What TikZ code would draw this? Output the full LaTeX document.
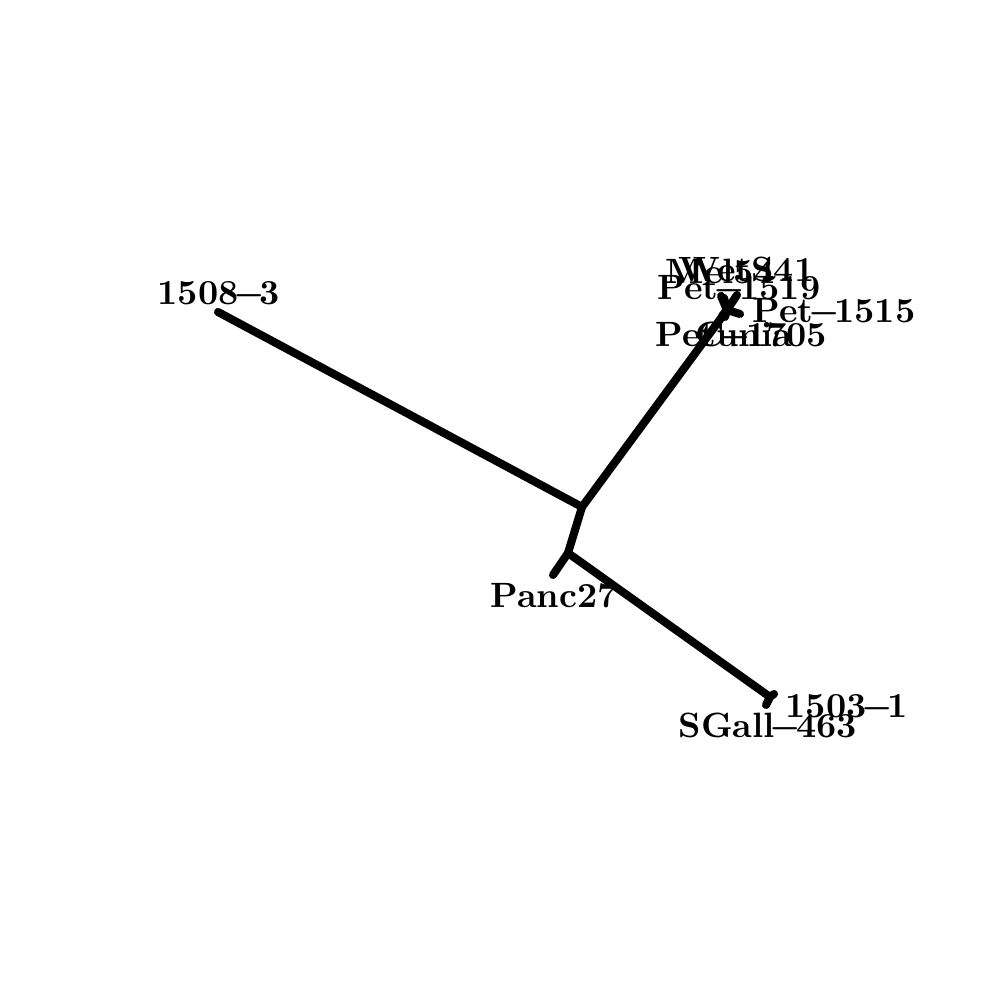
\documentclass[tikz,border=0pt]{standalone}
\usetikzlibrary{positioning}

\newcommand{\dsh}{\makebox[0.6em]{\boldmath$-$}}
\tikzset{
	branch/.style = {black, line width = 2.3pt, line cap = round, line join = round},
	taxon/.style = {font = \fontsize{10}{12}\selectfont\bfseries, inner sep = 0pt}
}

\begin{document}
\begin{tikzpicture}[scale = 1, baseline = 0]
				\useasboundingbox (0, 0) rectangle (10, 10);
				% inner nodes of the tree
				\coordinate (root) at (5.82, 4.93);
				\coordinate (pet) at (7.27, 6.90);
				\coordinate (low) at (5.68, 4.47);
				\coordinate (gall) at (7.70, 3.03);
				% tips
				\coordinate (t1508) at (2.18, 6.88);
				\coordinate (tpanc) at (5.53, 4.25);
				\coordinate (tsgall) at (7.66, 2.95);
				\coordinate (t1503) at (7.74, 3.06);
				\coordinate (twet) at (7.21, 7.04);
				\coordinate (tmel) at (7.24, 7.02);
				\coordinate (t1519) at (7.37, 7.05);
				\coordinate (t1515) at (7.40, 6.86);
				\coordinate (tpetunia) at (7.22, 6.84);
				\coordinate (t1705) at (7.25, 6.83);
				\draw[branch] (t1508) -- (root) -- (pet);
				\draw[branch] (root) -- (low) -- (gall);
				\draw[branch] (low) -- (tpanc);
				\draw[branch] (gall) -- (tsgall) (gall) -- (t1503);
				\foreach \t in {twet, tmel, t1519, t1515, tpetunia, t1705}
					\draw[branch] (pet) -- (\t);
				% labels
				\node[taxon, anchor = base west] (l1508) at (1.57, 6.95) {1508\dsh3};
				\node[taxon, anchor = base west] (lpanc) at (4.90, 3.92) {Panc27};
				\node[taxon, anchor = base west] (l1503) at (7.85, 2.82) {1503\dsh1};
				\node[taxon, anchor = base west] (lsgall) at (6.78, 2.62) {SGall\dsh463};
				\node[taxon, anchor = base west] (l1515) at (7.52, 6.77) {Pet\dsh1515};
				\node[taxon, anchor = base west] (l1519) at (6.57, 7.00) {Pet\dsh1519};
				\node[taxon, anchor = base west] (lmel) at (6.65, 7.16) {Mel54};
				\node[taxon, anchor = base west] (lwet) at (6.78, 7.18) {WetS41};
				\node[taxon, anchor = base west] (lpetunia) at (6.55, 6.53) {Petunia};
				\node[taxon, anchor = base west] (l1705) at (6.95, 6.53) {C\dsh1705};
			\end{tikzpicture}
\end{document}
